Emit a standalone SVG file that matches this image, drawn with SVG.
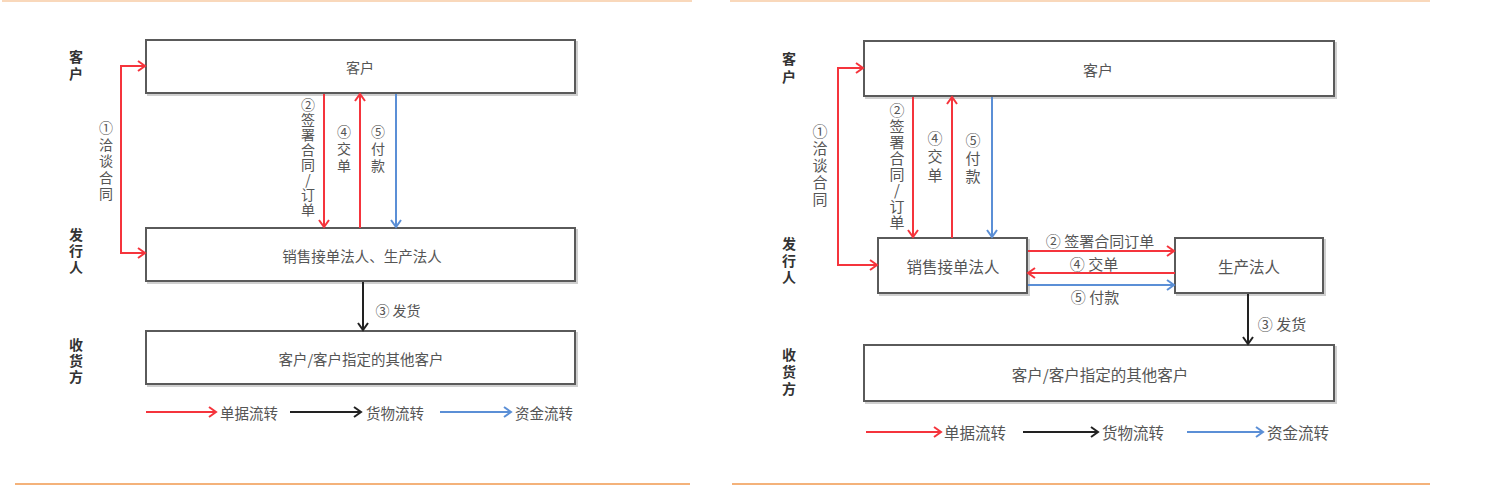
<svg xmlns="http://www.w3.org/2000/svg" width="1500" height="490" viewBox="0 0 1500 490">
<defs>
<marker id="ar" markerUnits="userSpaceOnUse" markerWidth="12" markerHeight="12" refX="9" refY="6" orient="auto"><path d="M2,1 L9,6 L2,11" fill="none" stroke="#f5343c" stroke-width="2"/></marker>
<marker id="ak" markerUnits="userSpaceOnUse" markerWidth="12" markerHeight="12" refX="9" refY="6" orient="auto"><path d="M2,1 L9,6 L2,11" fill="none" stroke="#222" stroke-width="2"/></marker>
<marker id="ab" markerUnits="userSpaceOnUse" markerWidth="12" markerHeight="12" refX="9" refY="6" orient="auto"><path d="M2,1 L9,6 L2,11" fill="none" stroke="#5b8fd6" stroke-width="2"/></marker>
</defs>
<style>
.box{fill:#fff;stroke:#5a5a5a;stroke-width:2}
.shd{fill:none;stroke:#cfcfcf;stroke-width:2}
.t{font-family:"Noto Sans CJK SC","Liberation Sans",sans-serif;fill:#555;text-anchor:middle;dominant-baseline:central}
.v{font-family:"Noto Sans CJK SC","Liberation Sans",sans-serif;fill:#555;writing-mode:vertical-rl;text-orientation:upright;text-anchor:start}
.cat{font-family:"Noto Sans CJK SC","Liberation Sans",sans-serif;fill:#333;font-weight:bold;font-size:14px;writing-mode:vertical-rl;text-orientation:upright;text-anchor:start}
.lg{font-family:"Noto Sans CJK SC","Liberation Sans",sans-serif;fill:#555;dominant-baseline:central}
.r{stroke:#f5343c;stroke-width:2;fill:none}
.k{stroke:#222;stroke-width:2;fill:none}
.b{stroke:#5b8fd6;stroke-width:2;fill:none}
.or{stroke:#f4b27a;stroke-width:2}
</style>
<g id="frame">
<line class="or" x1="2" y1="1" x2="692" y2="1" opacity="0.5"/>
<line class="or" x1="730" y1="1" x2="1430" y2="1" opacity="0.5"/>
<line class="or" x1="15" y1="484" x2="690" y2="484"/>
<line class="or" x1="732" y1="484" x2="1430" y2="484"/>
</g>

<!-- LEFT DIAGRAM -->
<g id="L-cat">
<text class="cat" x="76" y="50" letter-spacing="3">客户</text>
<text class="cat" x="76" y="228" letter-spacing="2">发行人</text>
<text class="cat" x="76" y="338" letter-spacing="2">收货方</text>
</g>
<g id="L-customer"><rect class="shd" x="148" y="42" width="429" height="53"/><rect class="box" x="146" y="40" width="429" height="53"/><text class="t" x="360" y="67" font-size="14">客户</text></g>
<g id="L-issuer"><rect class="shd" x="148" y="230" width="429" height="53"/><rect class="box" x="146" y="228" width="429" height="53"/><text class="t" x="362" y="255" font-size="14.5">销售接单法人、生产法人</text></g>
<g id="L-receiver"><rect class="shd" x="148" y="333" width="429" height="53"/><rect class="box" x="146" y="331" width="429" height="53"/><text class="t" x="361" y="358" font-size="14.5">客户/客户指定的其他客户</text></g>
<g id="L-connectors">
<path class="r" d="M145,66 H121 V253 H145" marker-end="url(#ar)"/>
<path class="r" d="M121,66 H145" marker-end="url(#ar)"/>
<line class="r" x1="324" y1="94" x2="324" y2="227" marker-end="url(#ar)"/>
<line class="r" x1="360" y1="228" x2="360" y2="94" marker-end="url(#ar)"/>
<line class="b" x1="396" y1="94" x2="396" y2="227" marker-end="url(#ab)"/>
<line class="k" x1="363" y1="282" x2="363" y2="330" marker-end="url(#ak)"/>
</g>
<g id="L-labels">
<text class="v" x="106" y="121" font-size="14" letter-spacing="2.5">①洽谈合同</text>
<text class="v" x="308" y="98" font-size="14" letter-spacing="1">②签署合同/订单</text>
<text class="v" x="344" y="125" font-size="14" letter-spacing="3">④交单</text>
<text class="v" x="378" y="125" font-size="14" letter-spacing="3">⑤付款</text>
<text class="t" x="398" y="310" font-size="14">③ 发货</text>
</g>
<g id="L-legend">
<line class="r" x1="146" y1="412" x2="216" y2="412" marker-end="url(#ar)"/>
<text class="lg" x="220" y="412" font-size="14.5">单据流转</text>
<line class="k" x1="290" y1="412" x2="361" y2="412" marker-end="url(#ak)"/>
<text class="lg" x="366" y="412" font-size="14.5">货物流转</text>
<line class="b" x1="440" y1="412" x2="511" y2="412" marker-end="url(#ab)"/>
<text class="lg" x="515" y="412" font-size="14.5">资金流转</text>
</g>

<!-- RIGHT DIAGRAM -->
<g id="R-cat">
<text class="cat" x="789" y="52" letter-spacing="4">客户</text>
<text class="cat" x="789" y="237" letter-spacing="2.5">发行人</text>
<text class="cat" x="789" y="348" letter-spacing="3">收货方</text>
</g>
<g id="R-customer"><rect class="shd" x="866" y="43" width="470" height="55"/><rect class="box" x="864" y="41" width="470" height="55"/><text class="t" x="1098" y="69" font-size="15">客户</text></g>
<g id="R-sales"><rect class="shd" x="880" y="240" width="149" height="55"/><rect class="box" x="878" y="238" width="149" height="55"/><text class="t" x="953" y="266" font-size="15.5">销售接单法人</text></g>
<g id="R-prod"><rect class="shd" x="1177" y="240" width="148" height="55"/><rect class="box" x="1175" y="238" width="148" height="55"/><text class="t" x="1249" y="266" font-size="15.5">生产法人</text></g>
<g id="R-receiver"><rect class="shd" x="866" y="347" width="470" height="56"/><rect class="box" x="864" y="345" width="470" height="56"/><text class="t" x="1100" y="374" font-size="15.5">客户/客户指定的其他客户</text></g>
<g id="R-connectors">
<path class="r" d="M838,68 H863" marker-end="url(#ar)"/>
<path class="r" d="M863,68 H838 V265 H877" marker-end="url(#ar)"/>
<line class="r" x1="913" y1="97" x2="913" y2="237" marker-end="url(#ar)"/>
<line class="r" x1="952" y1="238" x2="952" y2="97" marker-end="url(#ar)"/>
<line class="b" x1="992" y1="97" x2="992" y2="237" marker-end="url(#ab)"/>
<line class="r" x1="1028" y1="251" x2="1174" y2="251" marker-end="url(#ar)"/>
<line class="r" x1="1175" y1="273" x2="1028" y2="273" marker-end="url(#ar)"/>
<line class="b" x1="1028" y1="285" x2="1174" y2="285" marker-end="url(#ab)"/>
<line class="k" x1="1248" y1="294" x2="1248" y2="344" marker-end="url(#ak)"/>
</g>
<g id="R-labels">
<text class="v" x="820" y="123.5" font-size="15" letter-spacing="2">①洽谈合同</text>
<text class="v" x="897" y="102.5" font-size="15" letter-spacing="1">②签署合同/订单</text>
<text class="v" x="935" y="130.5" font-size="15" letter-spacing="3.5">④交单</text>
<text class="v" x="973" y="132.5" font-size="15" letter-spacing="3">⑤付款</text>
<text class="t" x="1100" y="240" font-size="15">② 签署合同订单</text>
<text class="t" x="1094" y="263" font-size="15">④ 交单</text>
<text class="t" x="1095" y="296" font-size="15">⑤ 付款</text>
<text class="t" x="1282" y="323" font-size="15">③ 发货</text>
</g>
<g id="R-legend">
<line class="r" x1="866" y1="432" x2="941" y2="432" marker-end="url(#ar)"/>
<text class="lg" x="944" y="432" font-size="15.5">单据流转</text>
<line class="k" x1="1023" y1="432" x2="1098" y2="432" marker-end="url(#ak)"/>
<text class="lg" x="1102" y="432" font-size="15.5">货物流转</text>
<line class="b" x1="1187" y1="432" x2="1263" y2="432" marker-end="url(#ab)"/>
<text class="lg" x="1267" y="432" font-size="15.5">资金流转</text>
</g>
</svg>
